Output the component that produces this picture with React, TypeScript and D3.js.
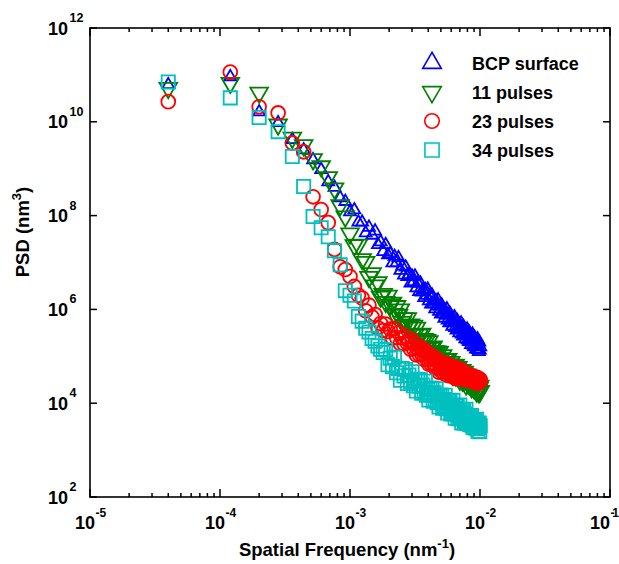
import React from 'react';
import * as d3 from 'd3';

const width = 619;
const height = 564;
const margin = { top: 28, right: 9, bottom: 67, left: 90 };

// spatial frequency, units of 1e-5 nm^-1
const freqE5 = [
  4, 12, 20, 28, 36, 44, 52, 60, 68, 76, 84, 92, 100, 108, 116, 124, 132, 140, 148, 156,
  164, 172, 180, 188, 196, 204, 212, 220, 228, 236, 244, 252, 260, 268, 276, 284, 292, 300, 308, 316,
  324, 332, 340, 348, 356, 364, 372, 380, 388, 396, 404, 412, 420, 428, 436, 444, 452, 460, 468, 476,
  484, 492, 500, 508, 516, 524, 532, 540, 548, 556, 564, 572, 580, 588, 596, 604, 612, 620, 628, 636,
  644, 652, 660, 668, 676, 684, 692, 700, 708, 716, 724, 732, 740, 748, 756, 764, 772, 780, 788, 796,
  804, 812, 820, 828, 836, 844, 852, 860, 868, 876, 884, 892, 900, 908, 916, 924, 932, 940, 948, 956,
  964, 972, 980, 988, 996, 1004,
];

// log10 of PSD (nm^3)
const bcpSurface = [
  10.79, 10.96, 10.21, 9.98, 9.62, 9.40, 9.19, 8.98, 8.72, 8.60, 8.38, 8.30, 8.08, 8.12, 7.86, 7.86, 7.63, 7.75, 7.58, 7.67,
  7.38, 7.44, 7.23, 7.38, 7.16, 7.19, 6.99, 7.13, 6.99, 7.10, 6.83, 6.92, 6.73, 6.90, 6.70, 6.74, 6.56, 6.71, 6.59, 6.71,
  6.46, 6.56, 6.38, 6.56, 6.37, 6.42, 6.25, 6.42, 6.30, 6.43, 6.18, 6.29, 6.11, 6.30, 6.12, 6.17, 6.01, 6.18, 6.07, 6.20,
  5.96, 6.07, 5.90, 6.09, 5.91, 5.97, 5.81, 5.98, 5.88, 6.01, 5.77, 5.88, 5.71, 5.91, 5.73, 5.79, 5.64, 5.81, 5.71, 5.84,
  5.61, 5.73, 5.56, 5.76, 5.58, 5.65, 5.50, 5.67, 5.57, 5.71, 5.47, 5.59, 5.43, 5.63, 5.45, 5.52, 5.37, 5.55, 5.44, 5.58,
  5.35, 5.47, 5.31, 5.51, 5.34, 5.40, 5.25, 5.43, 5.33, 5.47, 5.24, 5.36, 5.20, 5.40, 5.23, 5.30, 5.15, 5.33, 5.23, 5.37,
  5.14, 5.26, 5.10, 5.30, 5.13, 5.20,
];
const pulses11 = [
  10.72, 10.83, 10.62, 9.94, 9.66, 9.50, 9.20, 9.05, 8.82, 8.58, 8.22, 7.98, 7.62, 7.37, 7.38, 7.07, 7.01, 6.69, 6.77, 6.51,
  6.58, 6.27, 6.33, 6.16, 6.29, 6.10, 6.14, 5.90, 6.07, 5.88, 6.00, 5.73, 5.81, 5.66, 5.81, 5.63, 5.68, 5.46, 5.65, 5.47,
  5.61, 5.36, 5.46, 5.32, 5.48, 5.31, 5.37, 5.16, 5.35, 5.18, 5.32, 5.08, 5.18, 5.05, 5.21, 5.05, 5.11, 4.90, 5.10, 4.94,
  5.09, 4.85, 4.96, 4.84, 5.02, 4.86, 4.94, 4.73, 4.94, 4.79, 4.94, 4.71, 4.83, 4.71, 4.88, 4.73, 4.81, 4.60, 4.81, 4.66,
  4.82, 4.59, 4.71, 4.59, 4.77, 4.62, 4.70, 4.50, 4.71, 4.56, 4.71, 4.48, 4.61, 4.49, 4.67, 4.52, 4.60, 4.40, 4.61, 4.46,
  4.58, 4.42, 4.50, 4.41, 4.54, 4.43, 4.48, 4.34, 4.48, 4.37, 4.48, 4.33, 4.41, 4.32, 4.45, 4.34, 4.39, 4.25, 4.40, 4.29,
  4.40, 4.24, 4.32, 4.24, 4.37, 4.26,
];
const pulses23 = [
  10.43, 11.06, 10.32, 10.19, 9.55, 9.36, 8.40, 8.13, 7.85, 7.28, 6.91, 6.85, 6.70, 6.49, 6.30, 6.24, 5.97, 6.09, 5.84, 5.89,
  5.61, 5.70, 5.55, 5.69, 5.53, 5.58, 5.39, 5.59, 5.40, 5.50, 5.27, 5.39, 5.27, 5.43, 5.28, 5.33, 5.15, 5.34, 5.16, 5.27,
  5.03, 5.16, 5.04, 5.20, 5.05, 5.11, 4.93, 5.13, 4.95, 5.06, 4.83, 4.96, 4.84, 5.01, 4.86, 4.92, 4.75, 4.95, 4.77, 4.89,
  4.66, 4.80, 4.69, 4.86, 4.73, 4.80, 4.63, 4.85, 4.68, 4.80, 4.59, 4.73, 4.62, 4.80, 4.66, 4.74, 4.57, 4.78, 4.62, 4.74,
  4.53, 4.67, 4.57, 4.74, 4.61, 4.68, 4.52, 4.73, 4.57, 4.69, 4.52, 4.61, 4.54, 4.66, 4.57, 4.62, 4.50, 4.65, 4.53, 4.62,
  4.50, 4.57, 4.51, 4.59, 4.53, 4.56, 4.48, 4.59, 4.50, 4.57, 4.46, 4.53, 4.47, 4.56, 4.49, 4.53, 4.45, 4.55, 4.47, 4.54,
  4.42, 4.50, 4.44, 4.52, 4.46, 4.50,
];
const pulses34 = [
  10.85, 10.51, 10.09, 9.79, 9.26, 8.62, 7.98, 7.74, 7.55, 7.25, 6.95, 6.40, 6.30, 6.18, 5.85, 5.75, 5.60, 5.52, 5.38, 5.32,
  5.22, 5.15, 5.08, 5.14, 4.82, 4.96, 4.78, 4.98, 4.65, 4.74, 4.49, 4.74, 4.58, 4.72, 4.42, 4.60, 4.45, 4.67, 4.37, 4.48,
  4.26, 4.51, 4.36, 4.50, 4.21, 4.39, 4.24, 4.47, 4.17, 4.29, 4.07, 4.32, 4.18, 4.32, 4.04, 4.22, 4.07, 4.31, 4.01, 4.13,
  3.92, 4.17, 4.03, 4.17, 3.89, 4.08, 3.93, 4.17, 3.88, 4.00, 3.79, 4.04, 3.90, 4.05, 3.77, 3.96, 3.82, 4.06, 3.77, 3.89,
  3.68, 3.94, 3.80, 3.95, 3.67, 3.86, 3.72, 3.96, 3.67, 3.80, 3.58, 3.85, 3.71, 3.86, 3.58, 3.77, 3.63, 3.87, 3.58, 3.71,
  3.56, 3.73, 3.63, 3.73, 3.54, 3.68, 3.57, 3.74, 3.53, 3.61, 3.48, 3.65, 3.55, 3.65, 3.47, 3.60, 3.49, 3.66, 3.46, 3.54,
  3.40, 3.57, 3.48, 3.58, 3.39, 3.52,
];

const seriesNames = ['BCP surface', '11 pulses', '23 pulses', '34 pulses'];
const seriesColors = ['#0000ff', '#008000', '#ff0000', '#00bfbf'];

const xMajor = [1e-5, 1e-4, 1e-3, 1e-2, 1e-1];
const xExps = ['-5', '-4', '-3', '-2', '-1'];
const yMajor = [1e2, 1e4, 1e6, 1e8, 1e10, 1e12];
const yExps = ['2', '4', '6', '8', '10', '12'];

const font = '"Liberation Sans", Arial, Helvetica, sans-serif';

const x = d3.scaleLog().domain([1e-5, 1e-1]).range([margin.left, width - margin.right]);
const y = d3.scaleLog().domain([1e2, 1e12]).range([height - margin.bottom, margin.top]);

const triUp = (s: number) => d3.symbol(d3.symbolTriangle, s)()!;
const circ = (s: number) => d3.symbol(d3.symbolCircle, s)()!;
const sq = (s: number) => d3.symbol(d3.symbolSquare, s)()!;

function Marker({ i, cx, cy, legend }: { i: number; cx: number; cy: number; legend?: boolean }) {
  const c = seriesColors[i];
  const common = { fill: 'none', stroke: c, strokeWidth: legend ? 1.6 : 1.8 };
  if (i === 0) return <path d={triUp(legend ? 150 : 62)} transform={`translate(${cx},${cy})`} {...common} />;
  if (i === 1) return <path d={triUp(legend ? 150 : 135)} transform={`translate(${cx},${cy}) rotate(180)`} {...common} />;
  if (i === 2) return <path d={circ(legend ? 165 : 150)} transform={`translate(${cx},${cy})`} {...common} />;
  return <path d={sq(legend ? 200 : 175)} transform={`translate(${cx},${cy})`} {...common} />;
}

export default function App() {
  const series = [bcpSurface, pulses11, pulses23, pulses34];
  const x0 = margin.left;
  const x1 = width - margin.right;
  const y0 = height - margin.bottom;
  const y1 = margin.top;

  const xMinor: number[] = [];
  xMajor.slice(0, -1).forEach((d) => {
    for (let m = 2; m <= 9; m++) xMinor.push(d * m);
  });

  return (
    <svg width={width} height={height} style={{ position: 'absolute', left: 0, top: 0 }} fontFamily={font}>
      <rect width={width} height={height} fill="#fff" />
      {series.map((vals, si) =>
        vals.map((v, k) => (
          <Marker key={`${si}-${k}`} i={si} cx={x(freqE5[k] * 1e-5)} cy={y(Math.pow(10, v))} />
        ))
      )}

      <rect x={x0} y={y1} width={x1 - x0} height={y0 - y1} fill="none" stroke="#000" strokeWidth={1.6} />
      {xMajor.map((d) => (
        <g key={`xm${d}`} stroke="#000" strokeWidth={1.5}>
          <line x1={x(d)} x2={x(d)} y1={y0} y2={y0 - 8} />
          <line x1={x(d)} x2={x(d)} y1={y1} y2={y1 + 8} />
        </g>
      ))}
      {xMinor.map((d) => (
        <g key={`xn${d}`} stroke="#000" strokeWidth={1.5}>
          <line x1={x(d)} x2={x(d)} y1={y0} y2={y0 - 4} />
          <line x1={x(d)} x2={x(d)} y1={y1} y2={y1 + 4} />
        </g>
      ))}
      {yMajor.map((d) => (
        <g key={`ym${d}`} stroke="#000" strokeWidth={1.5}>
          <line x1={x0} x2={x0 + 7} y1={y(d)} y2={y(d)} />
          <line x1={x1} x2={x1 - 7} y1={y(d)} y2={y(d)} />
        </g>
      ))}

      {xMajor.map((d, i) => (
        <g key={`xl${d}`} fontWeight="bold" fill="#000">
          <text x={x(d) + (i === 4 ? 0 : 5)} y={529} fontSize={18} textAnchor="end">10</text>
          <text x={x(d) + (i === 4 ? 0.5 : 5.5)} y={517} fontSize={12} textLength={i === 4 ? 8.5 : undefined}>{xExps[i]}</text>
        </g>
      ))}
      {yMajor.map((d, i) => (
        <g key={`yl${d}`} fontWeight="bold" fill="#000">
          <text x={68} y={y(d) + 6.5} fontSize={18} textAnchor="end">10</text>
          <text x={69.5} y={y(d) - 6} fontSize={12.5}>{yExps[i]}</text>
        </g>
      ))}

      <text x={347} y={556} fontSize={18.5} fontWeight="bold" textAnchor="middle">
        Spatial Frequency (nm<tspan dy={-8} fontSize={13}>-1</tspan><tspan dy={8}>)</tspan>
      </text>
      <text transform="translate(29,232) rotate(-90)" fontSize={18.5} fontWeight="bold" textAnchor="middle">
        PSD (nm<tspan dy={-8} fontSize={13}>3</tspan><tspan dy={8}>)</tspan>
      </text>

      {seriesNames.map((name, i) => {
        const ly = 63 + i * 29;
        return (
          <g key={name}>
            <Marker i={i} cx={432} cy={ly} legend />
            <text x={472} y={ly + 6.5} fontSize={18} fontWeight="bold">{name}</text>
          </g>
        );
      })}
    </svg>
  );
}
